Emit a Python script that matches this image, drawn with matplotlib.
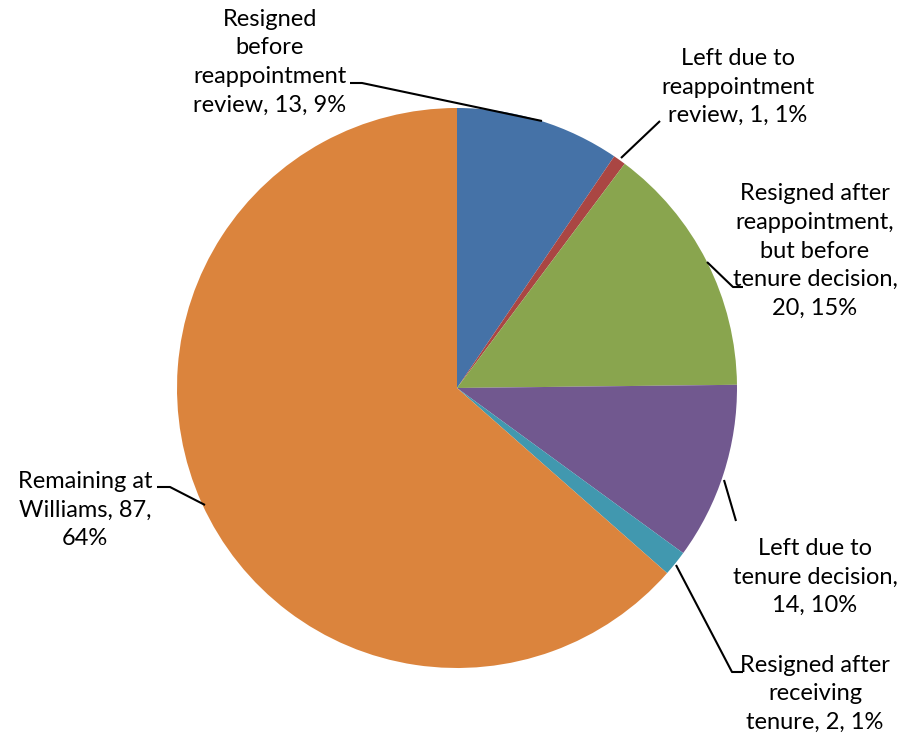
import matplotlib
matplotlib.use("Agg")
import matplotlib.pyplot as plt

labels = ["Resigned\nbefore\nreappointment\nreview, 13, 9%",
          "Left due to\nreappointment\nreview, 1, 1%",
          "Resigned after\nreappointment,\nbut before\ntenure decision,\n20, 15%",
          "Left due to\ntenure decision,\n14, 10%",
          "Resigned after\nreceiving\ntenure, 2, 1%",
          "Remaining at\nWilliams, 87,\n64%"]
counts = [13, 1, 20, 14, 2, 87]
colors = ["#4572A7", "#AA4643", "#89A54E", "#71588F", "#4198AF", "#DB843D"]

# label text centres and leader lines, in pixel coords (y from top)
label_pos = [(270, 62), (738, 87), (815, 251), (815, 577), (815, 694), (85, 510)]
leaders = [
    [(350, 83), (362, 83), (542, 121)],
    [(621, 158), (660, 121)],
    [(707, 262), (733, 287), (743, 287)],
    [(724, 480), (736, 521)],
    [(676, 565), (732, 672), (743, 672)],
    [(157, 487), (170, 487), (205, 505)],
]

W, H = 908, 736
plt.rcParams['font.family'] = ['Lato', 'DejaVu Sans']

fig = plt.figure(figsize=(W / 100, H / 100), dpi=100)
ax = fig.add_axes([0, 0, 1, 1])

ax.pie(counts, colors=colors, startangle=90, counterclock=False,
       center=(457, H - 388), radius=280, frame=True,
       wedgeprops=dict(linewidth=0))
ax.set_xlim(0, W)
ax.set_ylim(0, H)
ax.set_aspect("equal")
ax.axis("off")

for txt, (x, y) in zip(labels, label_pos):
    ax.text(x, H - y, txt, ha="center", va="center", fontsize=17,
            linespacing=1.45, color="black")

for pts in leaders:
    xs = [p[0] for p in pts]
    ys = [H - p[1] for p in pts]
    ax.plot(xs, ys, color="black", lw=1.5, solid_capstyle="butt")

fig.savefig("out.png", dpi=100)
